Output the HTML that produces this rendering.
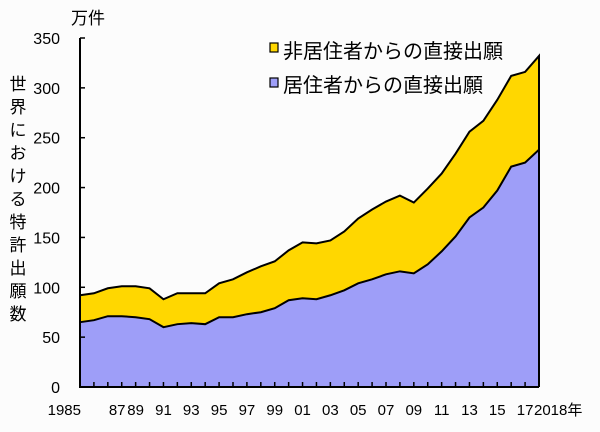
<!DOCTYPE html>
<html><head><meta charset="utf-8"><style>
body{margin:0;background:#fcfcfc;}
svg text{font-family:"Liberation Sans","Noto Sans CJK JP",sans-serif;fill:#000;}
</style></head><body>
<svg id="c" width="600" height="427" xmlns="http://www.w3.org/2000/svg">
<rect width="600" height="427" fill="#fcfcfc"/>
<g id="plot"></g>
<text x="71" y="24" font-size="17">万件</text>
<g font-size="17" text-anchor="middle">
<text x="18" y="90">世</text><text x="18" y="113">界</text><text x="18" y="136">に</text><text x="18" y="159">お</text><text x="18" y="182">け</text><text x="18" y="205">る</text><text x="18" y="228">特</text><text x="18" y="251">許</text><text x="18" y="274">出</text><text x="18" y="297">願</text><text x="18" y="320">数</text>
</g>
<g>
<rect x="270" y="43" width="8" height="9" fill="#ffd700" stroke="#000" stroke-width="1.2"/>
<text x="283" y="58" font-size="20">非居住者からの直接出願</text>
<rect x="270" y="78" width="8" height="9" fill="#9e9ef8" stroke="#000" stroke-width="1.2"/>
<text x="283" y="92" font-size="20">居住者からの直接出願</text>
</g>
</svg>
<script>
const years=[1985,1986,1987,1988,1989,1990,1991,1992,1993,1994,1995,1996,1997,1998,1999,2000,2001,2002,2003,2004,2005,2006,2007,2008,2009,2010,2011,2012,2013,2014,2015,2016,2017,2018];
const resident=[65,67,71,71,70,68,60,63,64,63,70,70,73,75,79,87,89,88,92,97,104,108,113,116,114,123,136,151,170,180,197,221,225,238];
const total=[92,94,99,101,101,99,88,94,94,94,104,108,115,121,126,137,145,144,147,156,169,178,186,192,185,199,214,234,256,267,288,312,316,332];
const yTicks=[0,50,100,150,200,250,300,350];
const xLabels=["1985","87","89","91","93","95","97","99","01","03","05","07","09","11","13","15","17","2018年"];
const NS="http://www.w3.org/2000/svg";
const g=document.getElementById('plot');
const X0=80,X1=539,Y0=387,Y1=38;
const xs=i=>X0+(X1-X0)*i/(years.length-1);
const ys=v=>Y0-(Y0-Y1)*v/350;
function mk(t,a){const e=document.createElementNS(NS,t);for(const k in a)e.setAttribute(k,a[k]);g.appendChild(e);return e;}
let topPath="",resPath="";
years.forEach((y,i)=>{topPath+=(i?"L":"M")+xs(i)+","+ys(total[i]);resPath+=(i?"L":"M")+xs(i)+","+ys(resident[i]);});
const n=years.length-1;
let a1=mk('path',{d:topPath+"L"+xs(n)+","+Y0+"L"+X0+","+Y0+"Z",fill:"#ffd700"});


let a2=mk('path',{d:resPath+"L"+xs(n)+","+Y0+"L"+X0+","+Y0+"Z",fill:"#9e9ef8"});


let l1=mk('path',{d:topPath+"L"+xs(n)+","+ys(resident[n]),fill:"none",stroke:"#000","stroke-width":2});


let l2=mk('path',{d:resPath+"L"+xs(n)+","+Y0,fill:"none",stroke:"#000","stroke-width":2});


let ax=mk('path',{d:"M"+X0+","+Y1+"V"+Y0+"H"+X1,fill:"none",stroke:"#000","stroke-width":2});


yTicks.forEach(v=>{
 let t=mk('line',{x1:X0,x2:X0+5,y1:ys(v),y2:ys(v),stroke:"#000","stroke-width":1.5});
 
 
 let tx=mk('text',{x:X0-20,y:ys(v)+6,"font-size":16,"text-anchor":"end"});tx.textContent=v;
 
 
});
years.forEach((y,i)=>{
 let t=mk('line',{x1:xs(i),x2:xs(i),y1:Y0,y2:Y0-5,stroke:"#000","stroke-width":1.5});
 
 
});
xLabels.forEach((s,j)=>{
 let i=j*2,x=xs(i);
 let tx=mk('text',{x:x,y:415,"font-size":15,"text-anchor":"middle"});
 if(j==0){tx.setAttribute('text-anchor','end');tx.setAttribute('x',x+1);}
 if(j==xLabels.length-1){tx.setAttribute('text-anchor','start');tx.setAttribute('x',xs(n)-5);}
 if(j==1){tx.setAttribute('text-anchor','start');tx.setAttribute('x',x+1);}
 tx.textContent=s;
 
 
});
</script>
</body></html>
